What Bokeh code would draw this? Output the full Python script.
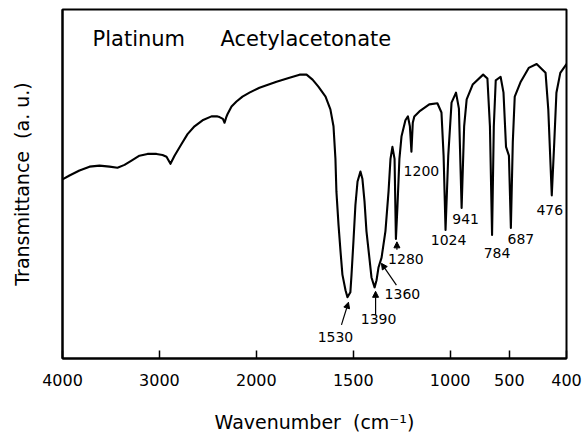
import numpy as np
from bokeh.plotting import figure
from bokeh.models import Range1d, FixedTicker, Label, Arrow, NormalHead, ColumnDataSource
from bokeh.core.properties import value
from bokeh.embed import file_html
from bokeh.resources import INLINE

# IR spectrum of platinum acetylacetonate (arbitrary transmittance units)
wavenumber = [4000, 3928, 3825, 3721, 3618, 3515, 3433, 3360, 3288, 3206,
              3123, 3030, 2968, 2927, 2886, 2844, 2772, 2710, 2638, 2555,
              2463, 2401, 2380, 2345, 2328, 2310, 2298, 2256, 2205, 2143,
              2071, 1984, 1896, 1829, 1777, 1741, 1710, 1680, 1643, 1618,
              1602, 1592, 1587, 1576, 1566, 1556, 1540, 1530, 1515, 1509,
              1499, 1489, 1478, 1463, 1453, 1442, 1432, 1417, 1406, 1390,
              1380, 1370, 1354, 1334, 1318, 1308, 1298, 1287, 1280, 1272,
              1262, 1251, 1231, 1218, 1208, 1200, 1193, 1185, 1159, 1108,
              1066, 1045, 1034, 1024, 1010, 993, 970, 955, 941, 928,
              915, 884, 830, 808, 795, 784, 775, 765, 740, 725,
              712, 697, 687, 677, 667, 636, 595, 554, 508, 494,
              476, 463, 452, 432, 400]
transmittance = [52.0, 53.1, 54.5, 55.6, 55.9, 55.6, 55.3, 56.1, 57.3, 58.7,
                 59.2, 59.2, 58.9, 58.4, 56.4, 58.7, 62.0, 64.8, 67.0, 68.7,
                 69.8, 69.8, 69.6, 69.1, 68.0, 69.6, 70.4, 72.6, 74.0, 75.4,
                 76.5, 77.9, 79.6, 80.7, 81.6, 81.6, 80.2, 78.2, 75.4, 71.8,
                 67.0, 57.8, 48.6, 39.1, 31.8, 25.1, 20.7, 18.7, 20.1, 25.1,
                 34.6, 44.7, 51.4, 54.2, 52.2, 45.8, 37.4, 29.9, 24.3, 21.5,
                 23.5, 27.1, 29.9, 37.4, 48.6, 57.8, 61.2, 57.8, 35.2, 44.4,
                 57.8, 64.2, 68.7, 69.8, 67.0, 59.8, 68.0, 69.8, 71.2, 73.2,
                 73.5, 70.9, 58.7, 37.7, 58.7, 73.7, 76.5, 72.0, 43.9, 67.0,
                 74.6, 78.8, 81.6, 80.5, 67.0, 36.3, 67.0, 80.0, 81.0, 76.5,
                 61.2, 58.7, 38.3, 62.6, 75.4, 79.6, 83.5, 84.6, 82.1, 71.8,
                 47.5, 62.6, 76.5, 82.1, 84.6]

# assigned bands
bands = [1530, 1390, 1360, 1280, 1200, 1024, 941, 784, 687, 476]
band_labels = [str(b) for b in bands]

# axis ticks (wavenumber where each tick sits, and its printed label)
tick_positions = [4000, 3000, 2000, 1500, 1000, 695, 400]
tick_labels = ["4000", "3000", "2000", "1500", "1000", "500", "400"]


def chart_x(w):
    """Spectrometer abscissa: half scale above 2000 cm-1, full scale below."""
    w = np.asarray(w, dtype=float)
    return np.where(w >= 2000, (4000.0 - w) / 2.0, 3000.0 - w)


W, H = 585, 435
LEFT, RIGHT, TOP, BOTTOM = 62, 19, 9, 73
X_END = 2600.0
Y_MIN, Y_MAX = 1.4, 100.0
frame_w = W - LEFT - RIGHT
frame_h = H - TOP - BOTTOM
px_per_x = frame_w / X_END
px_per_y = frame_h / (Y_MAX - Y_MIN)

FONT = "DejaVu Sans"

p = figure(width=W, height=H, output_backend="svg", toolbar_location=None,
           x_range=Range1d(0, X_END), y_range=Range1d(Y_MIN, Y_MAX),
           min_border_left=LEFT, min_border_right=RIGHT,
           min_border_top=TOP, min_border_bottom=BOTTOM)
p.background_fill_color = "white"
p.border_fill_color = "white"
p.grid.visible = False
p.outline_line_color = "black"
p.outline_line_width = 2

# bottom axis
ticks = [int(v) for v in chart_x(tick_positions)]
p.xaxis.ticker = FixedTicker(ticks=ticks)
p.xaxis.major_label_overrides = {t: lab for t, lab in zip(ticks, tick_labels)}
p.xaxis.axis_line_width = 2
p.xaxis.major_tick_in = 8
p.xaxis.major_tick_out = 0
p.xaxis.major_tick_line_width = 1.5
p.xaxis.minor_tick_line_color = None
p.xaxis.major_label_text_font = FONT
p.xaxis.major_label_text_font_size = "16px"
p.xaxis.major_label_text_color = "black"
p.xaxis.major_label_standoff = 15
p.xaxis.axis_label = "Wavenumber\u00a0\u00a0(cm\u207b\u00b9)"
p.xaxis.axis_label_text_font = FONT
p.xaxis.axis_label_text_font_size = "19px"
p.xaxis.axis_label_text_font_style = "normal"
p.xaxis.axis_label_text_color = "black"
p.xaxis.axis_label_standoff = 22

# left axis: label only
p.yaxis.ticker = FixedTicker(ticks=[])
p.yaxis.axis_line_width = 2
p.yaxis.major_tick_out = 0
p.yaxis.major_tick_in = 0
p.yaxis.minor_tick_line_color = None
p.yaxis.major_label_standoff = 0
p.yaxis.axis_label = "Transmittance\u00a0\u00a0(a.\u00a0u.)"
p.yaxis.axis_label_text_font = FONT
p.yaxis.axis_label_text_font_size = "19px"
p.yaxis.axis_label_text_font_style = "normal"
p.yaxis.axis_label_text_color = "black"
p.yaxis.axis_label_standoff = 30

# spectrum trace
spec = ColumnDataSource(dict(x=chart_x(wavenumber), y=transmittance))
p.line("x", "y", source=spec, line_color="black", line_width=2.1,
       line_join="round", line_cap="round")

# band labels, placed relative to the trace at each band
wn_inc = np.asarray(wavenumber[::-1], dtype=float)
tr_inc = np.asarray(transmittance[::-1], dtype=float)
band_t = np.interp(bands, wn_inc, tr_inc)
band_x = chart_x(bands)

label_dx = [-12, 4, 22, 10, 10, 3, 4, 5, 10, -2]
label_dy = [40, 32, 33, 20, 19, 10, 11, 18, 11, 15]
lab_src = ColumnDataSource(dict(
    x=band_x + np.array(label_dx) / px_per_x,
    y=band_t - np.array(label_dy) / px_per_y,
    text=band_labels,
))
p.text("x", "y", text="text", source=lab_src, text_font=value(FONT),
       text_font_size="14px", text_align="center", text_baseline="middle",
       text_color="black")

# arrows pointing at the overlapping bands: (band, tail dx, tail dy, tip dx, tip dy)
arrow_specs = [(1530, -6, 28, 1, 5), (1390, 1, 28, 1, 4),
               (1360, 16, 24, 1, 2), (1280, 1, 11, 1, 3)]
for band, tdx, tdy, hdx, hdy in arrow_specs:
    bx = float(chart_x(band))
    bt = float(np.interp(band, wn_inc, tr_inc))
    p.add_layout(Arrow(
        end=NormalHead(size=6, fill_color="black", line_color="black", line_width=1),
        x_start=bx + tdx / px_per_x, y_start=bt - tdy / px_per_y,
        x_end=bx + hdx / px_per_x, y_end=bt - hdy / px_per_y,
        line_color="black", line_width=1.2))

# heading inside the frame
for word, w_left in (("Platinum", 3690), ("Acetylacetonate", 2370)):
    p.add_layout(Label(x=float(chart_x(w_left)), y=91.6, text=word,
                       text_font=FONT, text_font_size="21px",
                       text_align="left", text_baseline="alphabetic",
                       text_color="black"))

open("out.html", "w").write(file_html(p, INLINE))
